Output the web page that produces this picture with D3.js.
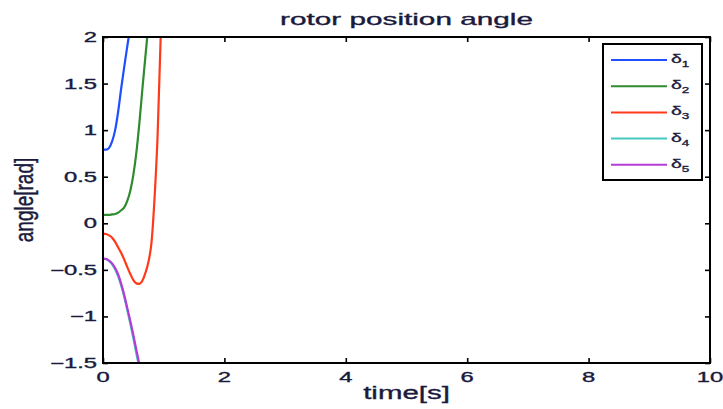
<!DOCTYPE html>
<html>
<head>
<meta charset="utf-8">
<script src="https://cdn.jsdelivr.net/npm/d3@7"></script>
<style>
  html, body { margin: 0; padding: 0; background: #fff; }
  svg { display: block; }
  text { font-family: "Liberation Sans", Arial, Helvetica, sans-serif; fill: #1a1a3c; stroke: #1a1a3c; stroke-width: 0.35px; }
</style>
</head>
<body>
<svg id="chart" width="723" height="409"></svg>
<script>
// ---- data ----
const time = [0, 0.05, 0.1, 0.15, 0.2, 0.25, 0.3, 0.35, 0.4, 0.45, 0.5,
              0.55, 0.6, 0.65, 0.7, 0.75, 0.8, 0.85, 0.9, 0.95, 1.0];
const delta1 = [0.79, 0.79, 0.81, 0.88, 1.0, 1.2, 1.45, 1.68, 1.9, 2.12, 2.4,
                null, null, null, null, null, null, null, null, null, null];
const delta2 = [0.09, 0.09, 0.09, 0.095, 0.10, 0.115, 0.14, 0.17, 0.24, 0.35, 0.52,
                0.76, 1.08, 1.45, 1.8, 2.15, 2.5, null, null, null, null];
const delta3 = [-0.11, -0.115, -0.13, -0.155, -0.2, -0.26, -0.32, -0.39, -0.47, -0.545, -0.61,
                -0.645, -0.65, -0.615, -0.53, -0.41, -0.2, 0.28, 0.95, 2.0, 3.2];
const delta4 = [-0.38, -0.385, -0.405, -0.44, -0.495, -0.57, -0.67, -0.79, -0.935, -1.08, -1.235,
                -1.40, -1.56, -1.75, null, null, null, null, null, null, null];
const delta5 = [-0.38, -0.383, -0.40, -0.43, -0.48, -0.55, -0.65, -0.77, -0.91, -1.05, -1.2,
                -1.36, -1.52, -1.7, null, null, null, null, null, null, null];
const seriesNames = ["1", "2", "3", "4", "5"];
const seriesColors = ["#1f4fff", "#2e8b2e", "#ff3a1a", "#45c8c0", "#b43cd6"];
const xTicks = [0, 2, 4, 6, 8, 10];
const yTicks = [-1.5, -1, -0.5, 0, 0.5, 1, 1.5, 2];
const yTickLabels = ["\u22121.5", "\u22121", "\u22120.5", "0", "0.5", "1", "1.5", "2"];
const titleText = "rotor position angle";
const xLabel = "time[s]";
const yLabel = "angle[rad]";

// ---- layout ----
const svg = d3.select("#chart");
const L = 103, R = 710, T = 37, B = 363;
const SX = 1.7; // horizontal text stretch seen in the reference

const x = d3.scaleLinear().domain([0, 10]).range([L, R]);
const y = d3.scaleLinear().domain([-1.5, 2]).range([B, T]);

// clip
svg.append("defs").append("clipPath").attr("id", "clip")
  .append("rect").attr("x", L).attr("y", T).attr("width", R - L).attr("height", B - T);

// curves
const allSeries = [delta1, delta2, delta3, delta4, delta5];
const line = d3.line()
  .defined(d => d[1] !== null)
  .x(d => x(d[0]))
  .y(d => y(d[1]))
  .curve(d3.curveMonotoneX);

const gLines = svg.append("g").attr("clip-path", "url(#clip)");
allSeries.forEach((vals, i) => {
  const pts = time.map((t, j) => [t, vals[j]]);
  gLines.append("path")
    .attr("d", line(pts))
    .attr("fill", "none")
    .attr("stroke", seriesColors[i])
    .attr("stroke-width", 2.2)
    .attr("stroke-linejoin", "round");
});

// axes ticks (inward, all four sides)
const tk = 5;
function styleAxis(g) {
  g.select(".domain").remove();
  g.selectAll("line").attr("stroke", "#000").attr("stroke-width", 1.6);
  g.selectAll("text").remove();
}
svg.append("g").attr("transform", `translate(0,${B})`)
  .call(d3.axisBottom(x).tickValues(xTicks).tickSize(-tk)).call(styleAxis);
svg.append("g").attr("transform", `translate(0,${T})`)
  .call(d3.axisTop(x).tickValues(xTicks).tickSize(-tk)).call(styleAxis);
svg.append("g").attr("transform", `translate(${L},0)`)
  .call(d3.axisLeft(y).tickValues(yTicks).tickSize(-tk)).call(styleAxis);
svg.append("g").attr("transform", `translate(${R},0)`)
  .call(d3.axisRight(y).tickValues(yTicks).tickSize(-tk)).call(styleAxis);

// frame
svg.append("rect").attr("x", L).attr("y", T).attr("width", R - L).attr("height", B - T)
  .attr("fill", "none").attr("stroke", "#000").attr("stroke-width", 2);

// tick labels
xTicks.forEach(v => {
  svg.append("text")
    .attr("transform", `translate(${x(v)},382) scale(${SX},1)`)
    .attr("text-anchor", "middle")
    .attr("font-size", 14)
    .text(v);
});
yTicks.forEach((v, i) => {
  svg.append("text")
    .attr("transform", `translate(97,${y(v) + 5}) scale(${SX},1)`)
    .attr("text-anchor", "end")
    .attr("font-size", 14)
    .text(yTickLabels[i]);
});

// title and axis labels
svg.append("text")
  .attr("transform", `translate(${(L + R) / 2},25) scale(1.75,1)`)
  .attr("text-anchor", "middle").attr("font-size", 17)
  .text(titleText);
svg.append("text")
  .attr("transform", `translate(${(L + R) / 2},399) scale(1.55,1)`)
  .attr("text-anchor", "middle").attr("font-size", 19)
  .text(xLabel);
svg.append("text")
  .attr("transform", `translate(33,${(T + B) / 2}) scale(1.4,1) rotate(-90)`)
  .attr("text-anchor", "middle").attr("font-size", 19)
  .text(yLabel);

// legend
const lg = svg.append("g");
lg.append("rect").attr("x", 603).attr("y", 44).attr("width", 99).attr("height", 136)
  .attr("fill", "#fff").attr("stroke", "#000").attr("stroke-width", 2);
seriesNames.forEach((n, i) => {
  const yy = 60 + i * 26.2;
  lg.append("line").attr("x1", 611).attr("x2", 667).attr("y1", yy).attr("y2", yy)
    .attr("stroke", seriesColors[i]).attr("stroke-width", 2);
  const t = lg.append("text")
    .attr("transform", `translate(671,${yy + 3}) scale(1.5,1)`)
    .attr("font-size", 13);
  t.append("tspan").text("\u03b4");
  t.append("tspan").attr("font-size", 9).attr("dy", 4).text(n);
});
</script>
</body>
</html>
